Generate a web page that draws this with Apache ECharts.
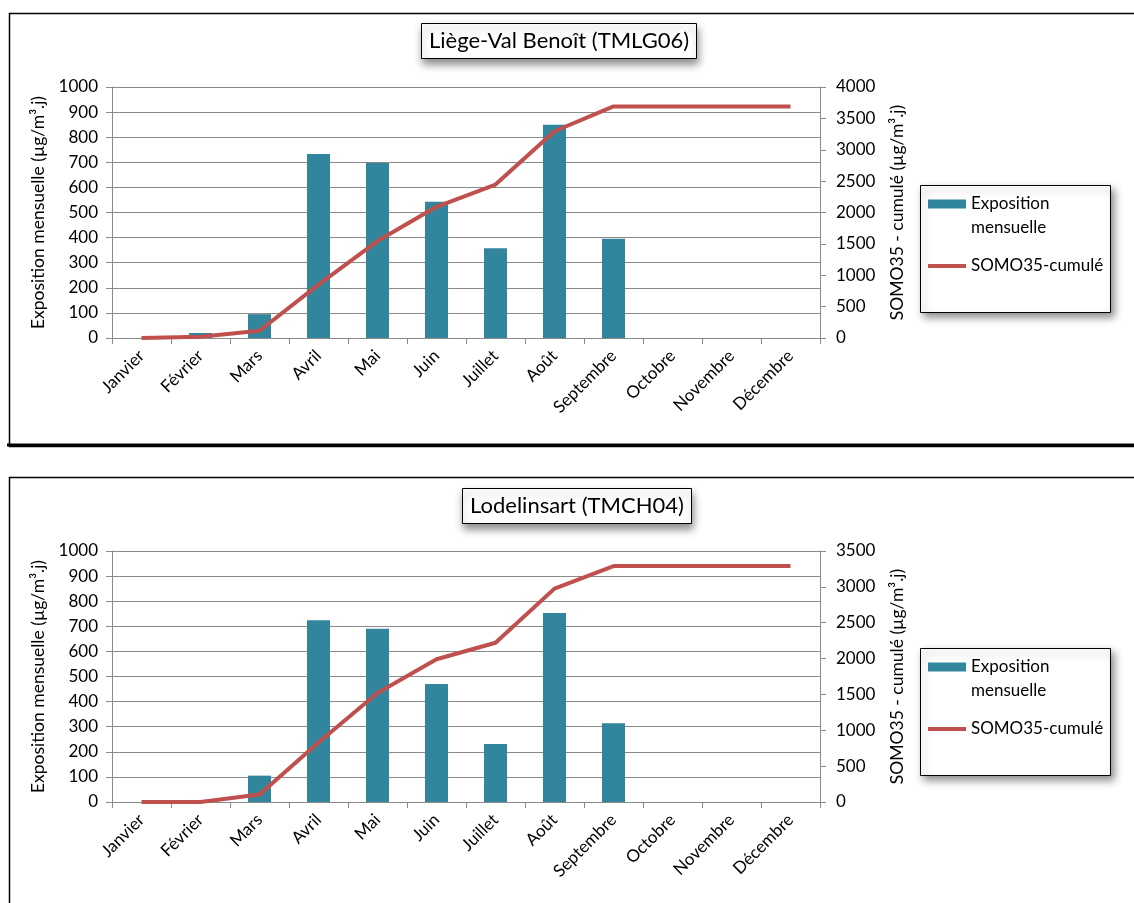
<!DOCTYPE html>
<html>
<head>
<meta charset="utf-8">
<script src="https://cdn.jsdelivr.net/npm/echarts@6/dist/echarts.min.js"></script>
<style>
html,body{margin:0;padding:0;background:#fff;}
#c{width:1134px;height:903px;}
</style>
</head>
<body>
<div id="c"></div>
<script>
const months = ['Janvier','Février','Mars','Avril','Mai','Juin','Juillet','Août','Septembre','Octobre','Novembre','Décembre'];
const liegeExpo = [0, 20, 95, 733, 697, 543, 358, 850, 395, null, null, null];
const liegeSomo = [0, 20, 115, 850, 1545, 2090, 2445, 3295, 3690, 3690, 3690, 3690];
const lodelExpo = [0, 0, 105, 724, 690, 470, 231, 753, 314, null, null, null];
const lodelSomo = [0, 0, 105, 830, 1520, 1990, 2220, 2975, 3290, 3290, 3290, 3290];
const titles = ['Liège-Val Benoît (TMLG06)', 'Lodelinsart (TMCH04)'];
const leftName = 'Exposition mensuelle (µg/m³.j)';
const rightName = 'SOMO35 - cumulé (µg/m³.j)';
const barName = 'Exposition mensuelle';
const lineName = 'SOMO35-cumulé';

const FONT = 'Lato';
const GRID = '#8a8a8a';
const BAR = '#31859C';
const LINE = '#C0504D';

const chart = echarts.init(document.getElementById('c'), null, {renderer:'canvas'});

function xAxisCfg(gi){
  return {
    type:'category', gridIndex:gi, data:months, boundaryGap:true,
    axisLine:{lineStyle:{color:GRID,width:1}},
    axisTick:{show:true, length:6, lineStyle:{color:GRID}},
    axisLabel:{rotate:45, fontSize:17, color:'#000', fontFamily:FONT, margin:15, interval:0}
  };
}
function leftAxisCfg(gi){
  return {
    type:'value', gridIndex:gi, position:'left', min:0, max:1000, interval:100,
    name:leftName, nameLocation:'middle', nameGap:65, nameRotate:90,
    nameTextStyle:{fontSize:17.5, color:'#000', fontFamily:FONT},
    axisLine:{show:true, lineStyle:{color:GRID}},
    axisTick:{show:true, length:6, lineStyle:{color:GRID}},
    axisLabel:{fontSize:17, color:'#000', fontFamily:FONT, margin:14, formatter: v => String(v)},
    splitLine:{show:true, lineStyle:{color:GRID, width:1}}
  };
}
function rightAxisCfg(gi, max){
  return {
    type:'value', gridIndex:gi, position:'right', min:0, max:max, interval:500,
    name:rightName, nameLocation:'middle', nameGap:68, nameRotate:90,
    nameTextStyle:{fontSize:17.5, color:'#000', fontFamily:FONT},
    axisLine:{show:true, lineStyle:{color:GRID}},
    axisTick:{show:true, length:6, lineStyle:{color:GRID}},
    axisLabel:{fontSize:17, color:'#000', fontFamily:FONT, margin:16, formatter: v => String(v)},
    splitLine:{show:false}
  };
}
function legendCfg(top){
  return {
    left:928, top:top, orient:'vertical', padding:0, itemGap:14,
    itemWidth:38, itemHeight:9,
    textStyle:{fontSize:17, color:'#000', fontFamily:FONT, lineHeight:24},
    formatter: n => n === barName ? '\u00a0\nExposition\nmensuelle' : n,
    data:[
      {name:barName, icon:'rect'},
      {name:lineName, icon:'path://M0,0 L40,0 L40,4 L0,4 Z'}
    ]
  };
}
function titleCfg(text, left, top){
  return {
    text:text, left:left, top:top, padding:[7,8],
    backgroundColor:'#fff', borderColor:'#000', borderWidth:1,
    shadowBlur:8, shadowColor:'rgba(0,0,0,0.45)', shadowOffsetX:1, shadowOffsetY:5,
    textStyle:{fontSize:22, fontWeight:'normal', color:'#000', fontFamily:FONT}
  };
}
function boxGraphic(x, y, w, h){
  return {
    type:'rect', left:x, top:y, z:-1,
    shape:{width:w, height:h},
    style:{fill:'#fff', stroke:'#000', lineWidth:1, shadowBlur:8, shadowColor:'rgba(0,0,0,0.45)', shadowOffsetX:3, shadowOffsetY:4}
  };
}

const option = {
  backgroundColor:'#fff',
  animation:false,
  title:[titleCfg(titles[0], 421, 23), titleCfg(titles[1], 462, 488)],
  legend:[legendCfg(168), legendCfg(631)],
  grid:[
    {left:112, top:87, width:708, height:251},
    {left:112, top:551, width:708, height:251}
  ],
  xAxis:[xAxisCfg(0), xAxisCfg(1)],
  yAxis:[leftAxisCfg(0), rightAxisCfg(0, 4000), leftAxisCfg(1), rightAxisCfg(1, 3500)],
  graphic:[
    {type:'rect', left:7, top:11, z:-2, shape:{width:1200, height:433}, style:{fill:'none', stroke:'#000', lineWidth:1.5}},
    {type:'line', z:-2, shape:{x1:7, y1:445, x2:1134, y2:445}, style:{stroke:'#000', lineWidth:3}},
    {type:'rect', left:7, top:475, z:-2, shape:{width:1200, height:500}, style:{fill:'none', stroke:'#000', lineWidth:1.5}},
    boxGraphic(920, 185, 190, 127),
    boxGraphic(920, 648, 190, 127)
  ],
  series:[
    {name:barName, type:'bar', xAxisIndex:0, yAxisIndex:0, data:liegeExpo, barWidth:23, itemStyle:{color:BAR}},
    {name:lineName, type:'line', xAxisIndex:0, yAxisIndex:1, data:liegeSomo, symbol:'none', lineStyle:{color:LINE, width:4}, itemStyle:{color:LINE}},
    {name:barName, type:'bar', xAxisIndex:1, yAxisIndex:2, data:lodelExpo, barWidth:23, itemStyle:{color:BAR}},
    {name:lineName, type:'line', xAxisIndex:1, yAxisIndex:3, data:lodelSomo, symbol:'none', lineStyle:{color:LINE, width:4}, itemStyle:{color:LINE}}
  ]
};
chart.setOption(option);
</script>
</body>
</html>
